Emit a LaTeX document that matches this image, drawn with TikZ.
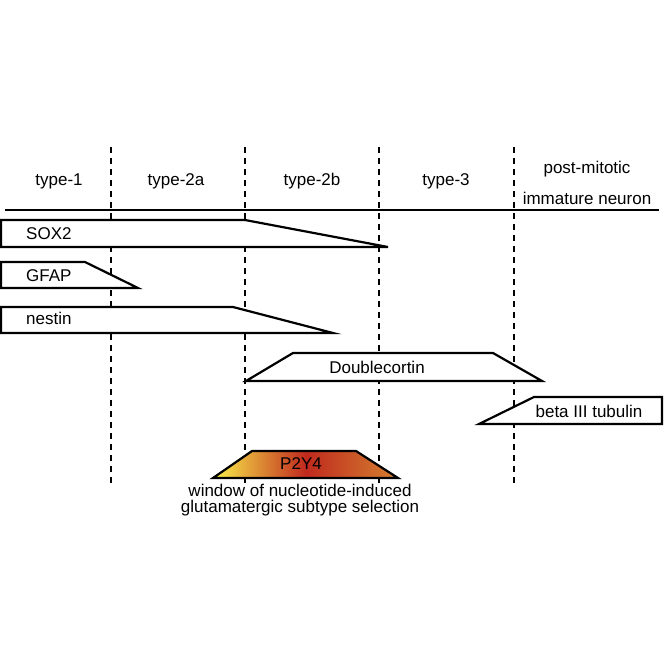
\documentclass[tikz,border=0pt]{standalone}
\usepackage{fontspec}
\setmainfont{Liberation Sans}
\usetikzlibrary{positioning}
\definecolor{pyellow}{RGB}{250,240,75}
\definecolor{pred}{RGB}{192,42,30}
\definecolor{porange}{RGB}{212,128,48}
\tikzset{
  basetext/.style={font=\fontsize{17}{20}\selectfont,inner sep=0pt},
  stagelabel/.style={basetext,anchor=base},
  barlabel/.style={basetext,anchor=base west},
  markerbar/.style={draw=black,line width=2.2pt,fill=white,line join=miter},
  stageline/.style={line width=2pt,dash pattern=on 6pt off 5pt},
  timeline/.style={line width=2pt},
  windowbar/.style={draw=black,line width=2.2pt,left color=pyellow,right color=porange,middle color=pred}
}

\begin{document}
\begin{tikzpicture}[x=1pt,y=-1pt]
  \useasboundingbox (0,0) rectangle (664,664);

  % stage borders
  \foreach \x in {111,245,379,514}
    \draw[stageline] (\x,147) -- (\x,485);
  \draw[timeline] (5,210) -- (659,210);

  % stage names
  \node[stagelabel] (type1) at (59,185) {type-1};
  \node[stagelabel] (type2a) at (176,185) {type-2a};
  \node[stagelabel] (type2b) at (312,185) {type-2b};
  \node[stagelabel] (type3) at (446,185) {type-3};
  \node[basetext,align=center,font=\fontsize{17}{31}\selectfont,anchor=base] (postmit) at (587,204)
    {post-mitotic\\immature neuron};

  % marker bars
  \draw[markerbar] (1,220) -- (245,220) -- (388,247) -- (1,247) -- cycle;
  \node[barlabel] (sox2) at (26,239) {SOX2};
  \draw[markerbar] (1,262) -- (85,262) -- (138,288) -- (1,288) -- cycle;
  \node[barlabel] (gfap) at (26,281) {GFAP};
  \draw[markerbar] (1,307) -- (233,307) -- (333,333) -- (1,333) -- cycle;
  \node[barlabel] (nestin) at (26,324) {nestin};
  \draw[markerbar] (246,381) -- (293,353) -- (493,353) -- (542,381) -- cycle;
  \node[stagelabel] (dcx) at (377,373) {Doublecortin};
  \draw[markerbar] (479,424) -- (534,397) -- (662,397) -- (662,424) -- cycle;
  \node[stagelabel] (tubb3) at (589,417) {beta III tubulin};

  % P2Y4 window
  \draw[windowbar] (213,478) -- (252,451) -- (356,451) -- (398,478) -- cycle;
  \node[stagelabel] (p2y4) at (301,469) {P2Y4};
  \node[basetext,align=center,font=\fontsize{17}{16}\selectfont,anchor=base] (window) at (300,512)
    {window of nucleotide-induced\\glutamatergic subtype selection};
\end{tikzpicture}
\end{document}
